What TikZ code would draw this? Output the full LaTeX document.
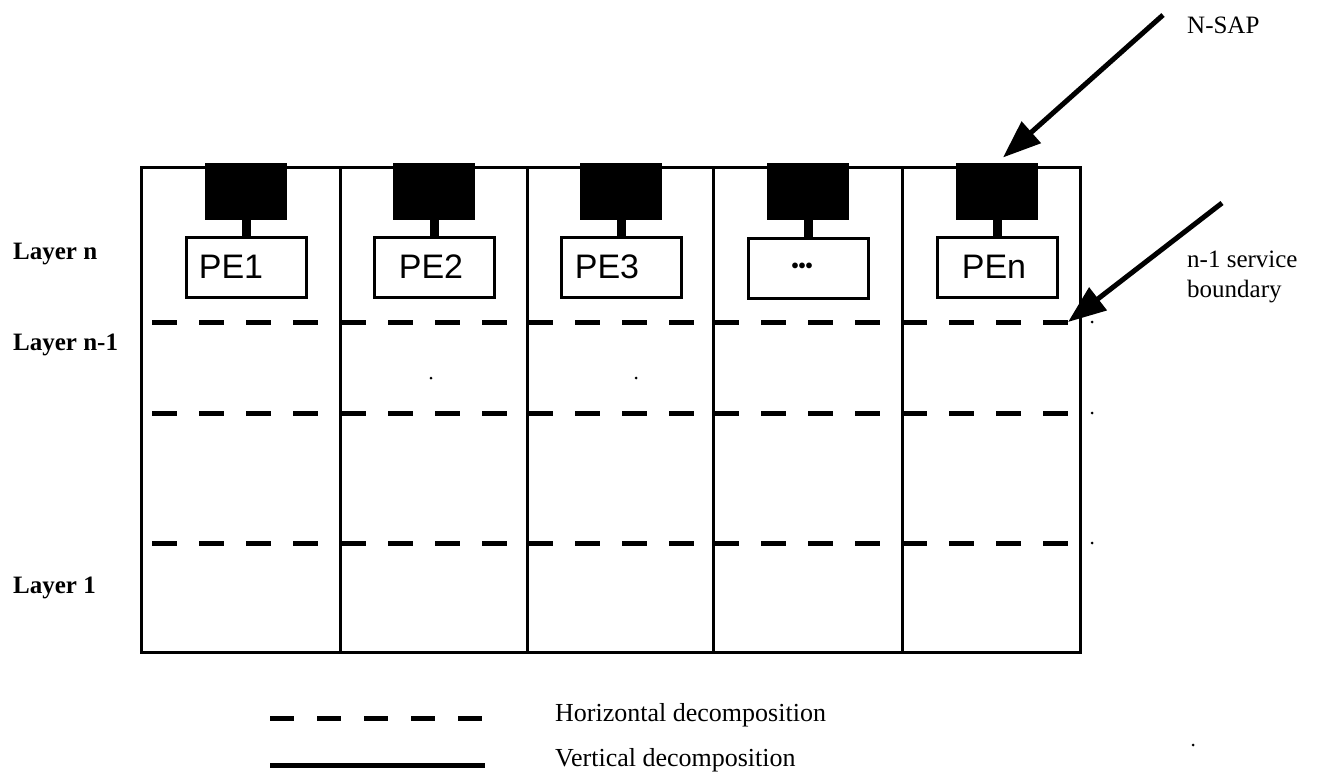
\documentclass[tikz,border=0pt]{standalone}
\usepackage{fontspec}
\setmainfont{Liberation Serif}
\newfontfamily\pesans{Liberation Sans}
\usetikzlibrary{arrows.meta}

\begin{document}
\begin{tikzpicture}[x=1pt,y=-1pt,
  frame/.style={line width=3pt},
  hdash/.style={line width=5pt, dash pattern=on 25pt off 22pt},
  sapbox/.style={fill=black, minimum width=82pt, minimum height=57pt, inner sep=0pt},
  pebox/.style={draw, line width=3pt, minimum width=120pt, minimum height=60pt,
                inner sep=0pt, font=\pesans\fontsize{34}{34}\selectfont},
  stem/.style={line width=9pt},
  callout/.style={line width=5pt, -{Triangle[length=38pt,width=28pt]}},
  layerlbl/.style={anchor=base west, inner sep=0pt, font=\bfseries\fontsize{25}{30}\selectfont},
  lbl/.style={anchor=base west, inner sep=0pt, font=\fontsize{25}{30}\selectfont, align=left},
  speck/.style={fill=black, circle, inner sep=0pt, minimum size=3pt}
]
\useasboundingbox (0,0) rectangle (1317,777);

% horizontal decomposition inside each column
\foreach \y in {322,413,543}
  \foreach \x in {152,341,528,714,902}
    \draw[hdash] (\x,\y) -- ++(166,0);

% outer frame and vertical decomposition
\draw[frame] (141,167) rectangle (1080,652);
\foreach \x in {340,527,713,902}
  \draw[frame] (\x,167) -- (\x,652);

% service access points and protocol entities
\foreach \i/\x/\t/\pad in {1/246/PE1/30, 2/434/PE2/6, 3/621/PE3/28, 5/997/PEn/6}{
  \node[sapbox] (sap\i) at (\x,191.5) {};
  \node[pebox] (pe\i) at (\x,267) {\t\hspace*{\pad pt}};
  \draw[stem] (sap\i.south) -- (pe\i.north);
}
\node[sapbox] (sap4) at (808,191.5) {};
\node[pebox, font=\pesans\bfseries\fontsize{20}{20}\selectfont] (pe4) at (808,268) {•••\hspace*{12pt}};
\draw[stem] (sap4.south) -- (pe4.north);

% layer labels
\node[layerlbl] (lyn) at (13,259) {Layer n};
\node[layerlbl] (lyn1) at (13,350) {Layer n-1};
\node[layerlbl] (ly1) at (13,593) {Layer 1};

% callouts
\node[lbl] (nsap) at (1187,33) {N-SAP};
\node[lbl] (bound) at (1187,297) {n-1 service\\boundary};
\coordinate (nsapTail) at (1163,15);
\draw[callout, shorten >=8pt] (nsapTail) -- (sap5.north);
\coordinate (bndTail) at (1222,203);
\coordinate (bndEnd) at (1068,322);
\draw[callout] (bndTail) -- (bndEnd);

% stray marks
\node[speck] (s1) at (1092,322) {};
\node[speck] (s2) at (1092,413) {};
\node[speck] (s3) at (1092,543) {};
\node[speck] (s4) at (431,378) {};
\node[speck] (s5) at (636,378) {};
\node[speck] (s6) at (1193,745) {};

% legend
\coordinate (lgHa) at (270,718);
\coordinate (lgHb) at (482,718);
\coordinate (lgVa) at (270,765);
\coordinate (lgVb) at (485,765);
\draw[line width=5pt, dash pattern=on 24pt off 23pt] (lgHa) -- (lgHb);
\draw[line width=5pt] (lgVa) -- (lgVb);
\node[lbl, font=\fontsize{26}{30}\selectfont] (lgH) at (555,721) {Horizontal decomposition};
\node[lbl, font=\fontsize{26}{30}\selectfont] (lgV) at (555,766) {Vertical decomposition};
\end{tikzpicture}
\end{document}
